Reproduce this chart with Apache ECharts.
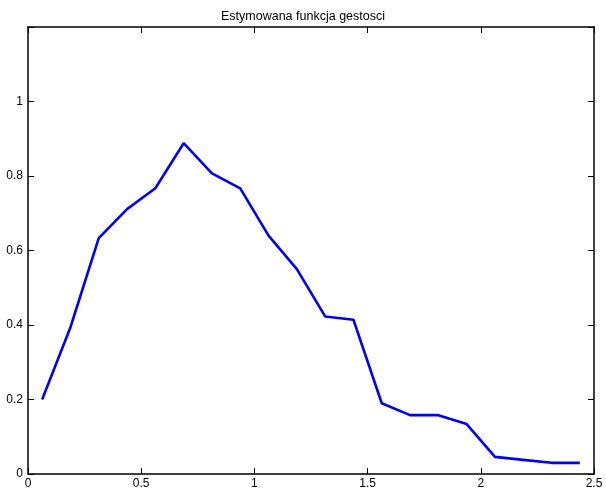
<!DOCTYPE html>
<html>
<head>
<meta charset="utf-8">
<script src="https://cdn.jsdelivr.net/npm/echarts@6/dist/echarts.min.js"></script>
<style>
  html, body { margin: 0; padding: 0; background: #fff; }
  #chart { width: 606px; height: 493px; }
</style>
</head>
<body>
<div id="chart"></div>
<script>
// Estimated density: bin centres and density values
const xValues = [0.0625, 0.1875, 0.3125, 0.4375, 0.5625, 0.6875, 0.8125, 0.9375, 1.0625, 1.1875,
                 1.3125, 1.4375, 1.5625, 1.6875, 1.8125, 1.9375, 2.0625, 2.1875, 2.3125, 2.4375];
const density = [0.200, 0.394, 0.633, 0.711, 0.767, 0.888, 0.807, 0.767, 0.640, 0.550,
                 0.423, 0.414, 0.190, 0.158, 0.158, 0.134, 0.046, 0.038, 0.030, 0.030];
const xTicks = [0, 0.5, 1, 1.5, 2, 2.5];
const yTicks = [0, 0.2, 0.4, 0.6, 0.8, 1];
const titleText = 'Estymowana funkcja gestosci';

const font = 'Liberation Sans, Arial, Helvetica, sans-serif';
const frameLine = { show: true, onZero: false, lineStyle: { color: '#000', width: 1.5 } };
const innerTick = { show: true, inside: true, length: 6, lineStyle: { color: '#000', width: 1 } };

const chart = echarts.init(document.getElementById('chart'), null, { renderer: 'canvas' });
chart.setOption({
  animation: false,
  backgroundColor: '#fff',
  title: {
    text: titleText,
    left: 'center',
    top: 5,
    textStyle: { fontFamily: font, fontSize: 12.5, fontWeight: 'normal', color: '#000' }
  },
  grid: { left: 28, right: 12, top: 27, bottom: 19, containLabel: false },
  xAxis: [{
    type: 'value', min: 0, max: 2.5, interval: 0.5,
    axisLine: frameLine, axisTick: innerTick, splitLine: { show: false },
    axisLabel: {
      fontFamily: font, fontSize: 12, color: '#000', margin: 4,
      formatter: v => xTicks.includes(+v.toFixed(2)) ? String(+v.toFixed(2)) : ''
    }
  }, {
    type: 'value', position: 'top', min: 0, max: 2.5, interval: 0.5,
    axisLine: frameLine, axisTick: innerTick, splitLine: { show: false },
    axisLabel: { show: false }
  }],
  yAxis: [{
    type: 'value', min: 0, max: 1.2, interval: 0.2,
    axisLine: frameLine, axisTick: innerTick, splitLine: { show: false },
    axisLabel: {
      fontFamily: font, fontSize: 12, color: '#000', margin: 5,
      formatter: v => yTicks.includes(+v.toFixed(2)) ? String(+v.toFixed(2)) : ''
    }
  }, {
    type: 'value', position: 'right', min: 0, max: 1.2, interval: 0.2,
    axisLine: frameLine, axisTick: innerTick, splitLine: { show: false },
    axisLabel: { show: false }
  }],
  series: [{
    type: 'line',
    data: xValues.map((x, i) => [x, density[i]]),
    showSymbol: false,
    lineStyle: { color: '#0000ff', width: 2.6 },
    itemStyle: { color: '#0000ff' }
  }]
});
</script>
</body>
</html>
